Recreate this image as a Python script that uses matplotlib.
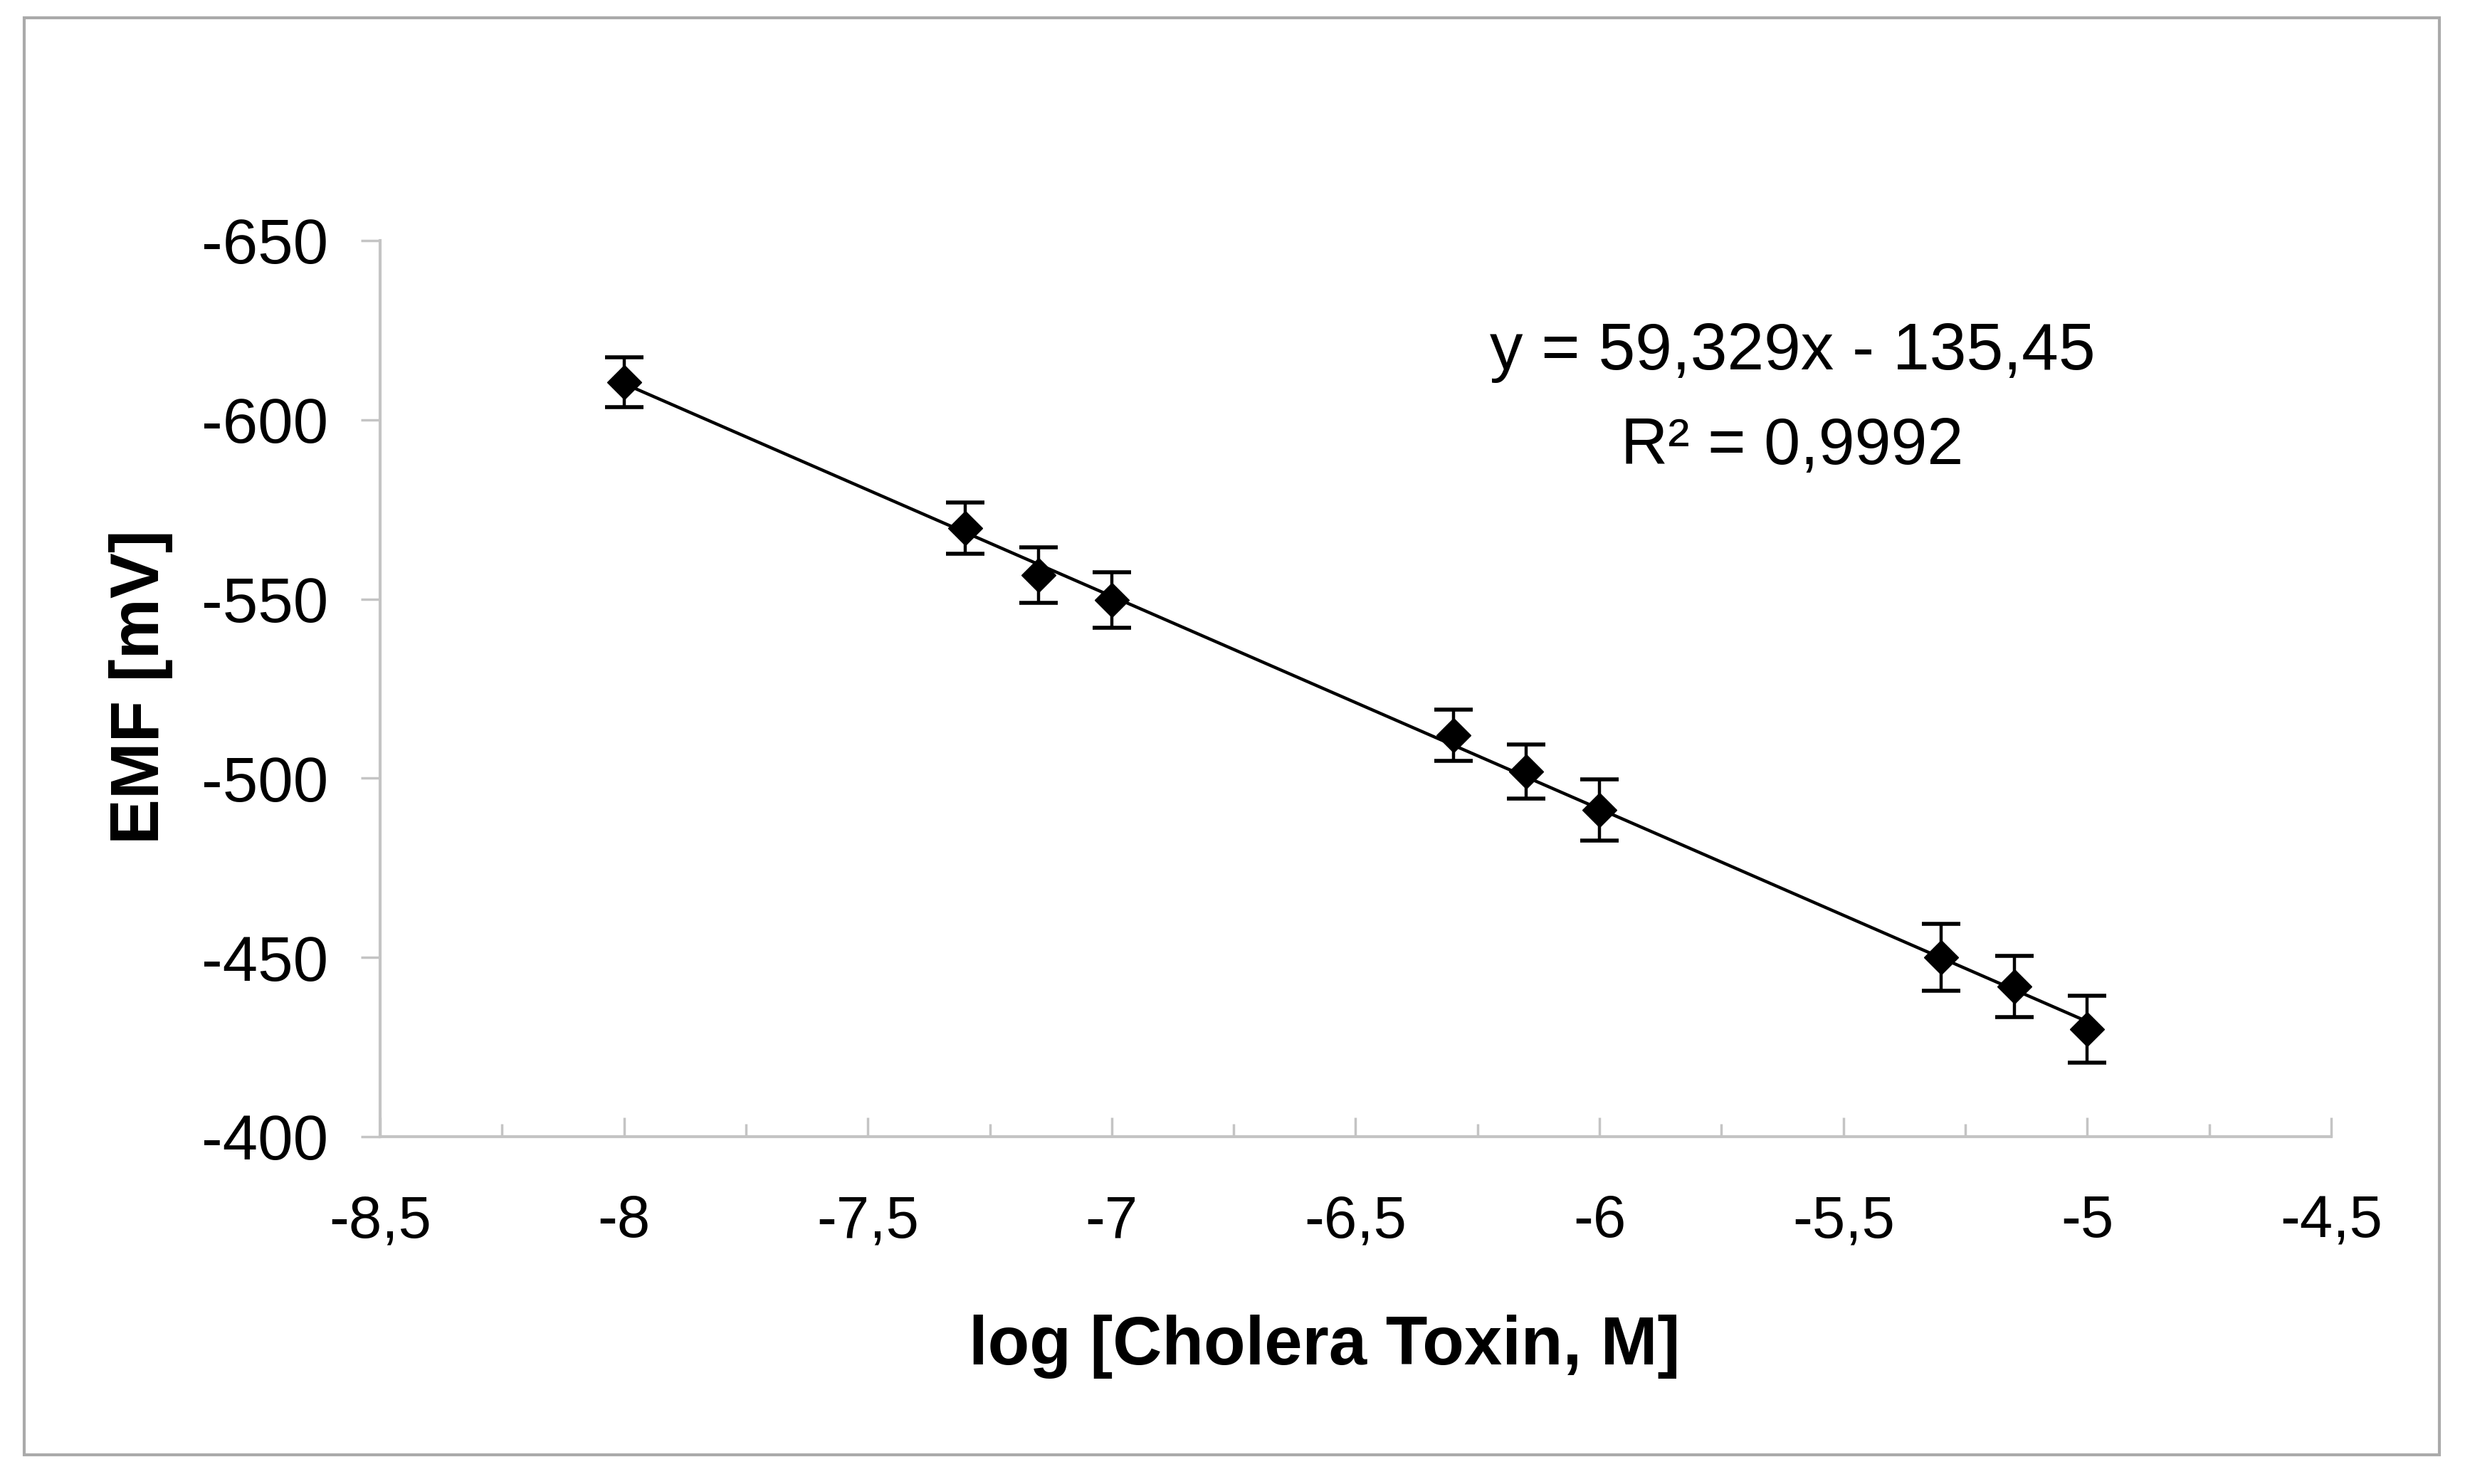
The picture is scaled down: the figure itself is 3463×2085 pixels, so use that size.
import matplotlib
matplotlib.use("Agg")
import matplotlib.pyplot as plt
from matplotlib.patches import Rectangle
from matplotlib.ticker import FuncFormatter
import numpy as np

plt.rcParams['font.family'] = ['Liberation Sans', 'DejaVu Sans']

# data
log_conc = [-8, -7.3, -7.15, -7, -6.3, -6.15, -6, -5.3, -5.15, -5]
emf = [-610.5, -569.8, -556.7, -549.7, -512.0, -501.9, -491.1, -450.0, -441.9, -430.0]
emf_err = [7.0, 7.1, 7.7, 7.8, 7.1, 7.5, 8.5, 9.4, 8.6, 9.3]

slope = 59.329
intercept = -135.45
r_squared = "0,9992"

x_ticks = [-8.5, -8, -7.5, -7, -6.5, -6, -5.5, -5, -4.5]
x_minor = [-8.25, -7.75, -7.25, -6.75, -6.25, -5.75, -5.25, -4.75]
y_ticks = [-650, -600, -550, -500, -450, -400]

axis_gray = "#c4c4c4"

fig = plt.figure(figsize=(34.63, 20.85), dpi=100)
ax = fig.add_axes([0.1542, 0.2341, 0.7915, 0.6038])

# fitted line
fit_x = np.array([min(log_conc), max(log_conc)])
ax.plot(fit_x, slope * fit_x + intercept, color="black", lw=3.2, zorder=2)

ax.errorbar(log_conc, emf, yerr=emf_err, fmt="D", color="black",
            ms=24, capsize=19.5, elinewidth=3.2, capthick=4, zorder=3)

ax.set_xlim(-8.5, -4.5)
ax.set_ylim(-400, -650)

ax.set_xticks(x_ticks)
ax.set_xticks(x_minor, minor=True)
ax.set_yticks(y_ticks)

comma_fmt = FuncFormatter(lambda v, pos: f"{v:g}".replace(".", ","))
ax.xaxis.set_major_formatter(comma_fmt)
ax.yaxis.set_major_formatter(comma_fmt)

for side in ["top", "right"]:
    ax.spines[side].set_visible(False)
for side in ["left", "bottom"]:
    ax.spines[side].set_color(axis_gray)
    ax.spines[side].set_linewidth(3)

ax.tick_params(axis="x", which="major", direction="in", length=19.5, width=2.5,
               color=axis_gray, pad=58, labelsize=60)
ax.tick_params(axis="x", which="minor", direction="in", length=13, width=2.5,
               color=axis_gray)
ax.tick_params(axis="y", which="major", direction="out", length=19.5, width=2.5,
               color=axis_gray, pad=33, labelsize=64)

ax.set_xlabel("log [Cholera Toxin, M]", fontsize=69, fontweight="bold")
ax.set_ylabel("EMF [mV]", fontsize=69, fontweight="bold")
ax.xaxis.set_label_coords(0.4841, -0.1986)
ax.yaxis.set_label_coords(-0.1062, 0.502)

ax.text(0.7238, 0.8562, "y = 59,329x - 135,45", transform=ax.transAxes,
        ha="center", va="baseline", fontsize=67)
ax.text(0.7238, 0.7506, "R² = " + r_squared, transform=ax.transAxes,
        ha="center", va="baseline", fontsize=66)

# thin gray frame around the whole picture
W, H = 3463, 2085
fig.patches.append(Rectangle((34 / W, (H - 2044) / H), (3427 - 34) / W, (2044 - 25) / H,
                             transform=fig.transFigure, fill=False,
                             edgecolor="#aaaaaa", lw=3))

fig.savefig("out.png", dpi=100)
